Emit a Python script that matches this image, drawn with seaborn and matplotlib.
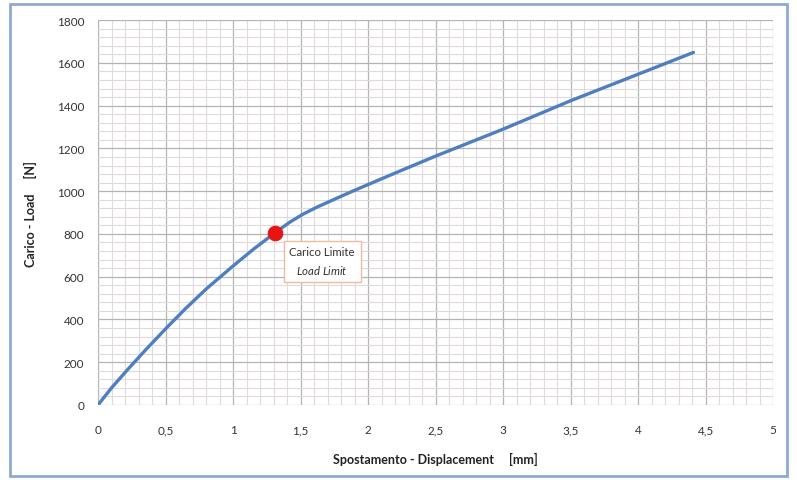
import numpy as np
import pandas as pd
import seaborn as sns
import matplotlib.pyplot as plt
from matplotlib.patches import Rectangle
from matplotlib.ticker import MultipleLocator, FuncFormatter

sns.set_theme(style='white')
plt.rcParams['font.family'] = ['Lato', 'DejaVu Sans']
plt.rcParams['mathtext.fontset'] = 'custom'
plt.rcParams['mathtext.rm'] = 'Lato'
plt.rcParams['mathtext.it'] = 'Lato:italic'

# load curve
displacement = [0, 0.1, 0.22, 0.35, 0.5, 0.65, 0.8, 1.0, 1.15, 1.31, 1.42, 1.52,
                1.62, 1.75, 1.9, 2.0, 2.25, 2.5, 3.0, 3.5, 4.0, 4.41]
load = [0, 80, 166, 256, 356, 452, 542, 650, 728, 805, 855, 893,
        925, 962, 1004, 1031, 1098, 1164, 1290, 1423, 1547, 1649]

limit_x = [1.31]
limit_y = [805]

xticks = [0, 0.5, 1, 1.5, 2, 2.5, 3, 3.5, 4, 4.5, 5]
yticks = [0, 200, 400, 600, 800, 1000, 1200, 1400, 1600, 1800]

df = pd.DataFrame({'x': displacement, 'y': load})

fig = plt.figure(figsize=(7.97, 4.81), dpi=100)
ax = fig.add_axes([0.123, 0.156, 0.847, 0.800])

# outer frame
fig.patches.append(Rectangle((0.013, 0.008), 0.975, 0.981, transform=fig.transFigure,
                             fill=False, edgecolor='#8eaad2', linewidth=2.0))

ax.set_xlim(0, 5)
ax.set_ylim(0, 1800)
ax.xaxis.set_major_locator(MultipleLocator(0.5))
ax.xaxis.set_minor_locator(MultipleLocator(0.1))
ax.yaxis.set_major_locator(MultipleLocator(200))
ax.yaxis.set_minor_locator(MultipleLocator(40))
ax.grid(which='major', color='#b4b4b4', linewidth=0.9)
ax.grid(which='minor', color='#e0dadc', linewidth=0.8)
ax.set_axisbelow(True)
for s in ax.spines.values():
    s.set_visible(False)

def comma(v, pos):
    s = ('%g' % v)
    return s.replace('.', ',')

ax.xaxis.set_major_formatter(FuncFormatter(comma))
ax.set_xticks(xticks)
ax.set_yticks(yticks)
ax.tick_params(axis='both', which='both', length=0, labelsize=8.5, colors='#333333')
ax.tick_params(axis='x', pad=14)
ax.tick_params(axis='y', pad=10)

sns.lineplot(data=df, x='x', y='y', ax=ax, color='#4f7fbf', linewidth=2.4, sort=False)
sns.scatterplot(x=limit_x, y=limit_y, ax=ax, color='#ee1111', s=110,
                edgecolor='#cc2222', linewidth=0.8, zorder=5)

ax.text(1.66, 673, 'Carico Limite\n$\\it{Load\\ Limit}$', ha='center', va='center',
        fontsize=8.2, color='#333333', linespacing=1.5,
        bbox=dict(boxstyle='square,pad=0.5', facecolor='white', edgecolor='#f2b8a0', linewidth=1.0))

ax.set_xlabel('Spostamento - Displacement     [mm]', fontsize=9, fontweight='bold',
              color='#222222', labelpad=12)
ax.set_ylabel('Carico - Load     [N]', fontsize=9, fontweight='bold',
              color='#222222', labelpad=14)

fig.savefig('out.png', dpi=100)
